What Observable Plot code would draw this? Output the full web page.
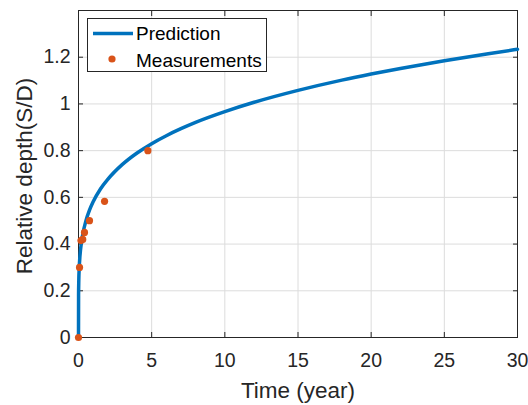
<!DOCTYPE html>
<html>
<head>
<meta charset="utf-8">
<script src="https://cdn.jsdelivr.net/npm/d3@7"></script>
<script src="https://cdn.jsdelivr.net/npm/@observablehq/plot@0.6"></script>
<style>
  html, body { margin: 0; padding: 0; background: #fff; }
  #wrap { position: relative; width: 528px; height: 405px; font-family: "Liberation Sans", Arial, sans-serif; }
  #legend { position: absolute; left: 87px; top: 18px; width: 180px; height: 54px; border: 1px solid #262626; background: #fff; box-sizing: border-box; }
  #legend svg { position: absolute; left: 0; top: 0; }
  #legend .lab { position: absolute; left: 48px; font-size: 19px; color: #000; line-height: 1; white-space: nowrap; }
</style>
</head>
<body>
<div id="wrap">
  <div id="chart"></div>
  <div id="legend">
    <svg width="180" height="54">
      <line x1="5" x2="45" y1="14.5" y2="14.5" stroke="#0072BD" stroke-width="3.5"></line>
      <circle cx="24" cy="40" r="3.6" fill="#D95319"></circle>
    </svg>
    <div class="lab" style="top:5px">Prediction</div>
    <div class="lab" style="top:32px">Measurements</div>
  </div>
</div>
<script>
// Tick values
const xTicks = [0, 5, 10, 15, 20, 25, 30];
const yTicks = [0, 0.2, 0.4, 0.6, 0.8, 1, 1.2];

// Prediction curve
const predTime  = [0, 0.005, 0.02, 0.05, 0.1, 0.2, 0.3, 0.5, 0.75, 1, 1.5, 2, 3, 4, 5, 6, 7, 8, 10, 12, 15, 18, 20, 22, 25, 28, 30];
const predDepth = [0, 0.180, 0.244, 0.299, 0.349, 0.407, 0.445, 0.498, 0.545, 0.581, 0.636, 0.677, 0.741, 0.790, 0.830, 0.864, 0.894, 0.921, 0.967, 1.007, 1.058, 1.102, 1.128, 1.152, 1.185, 1.215, 1.234];

// Measurements
const measTime  = [0, 0.07, 0.17, 0.29, 0.41, 0.75, 1.78, 4.74];
const measDepth = [0, 0.30, 0.415, 0.42, 0.45, 0.50, 0.583, 0.80];

const xLabel = "Time (year)";
const yLabel = "Relative depth(S/D)";

const pred = predTime.map((t, i) => ({t, d: predDepth[i]}));
const meas = measTime.map((t, i) => ({t, d: measDepth[i]}));

const fmt = d => String(+d.toFixed(1));
const ink = "#262626";
const fs = 19.5;
const lfs = 22.5;

const chart = Plot.plot({
  width: 528,
  height: 405,
  marginLeft: 78,
  marginRight: 11,
  marginTop: 10,
  marginBottom: 68,
  style: {fontFamily: '"Liberation Sans", Arial, sans-serif', fontSize: fs + "px", color: ink, background: "#fff"},
  x: {domain: [0, 30], ticks: xTicks},
  y: {domain: [0, 1.4], ticks: yTicks},
  marks: [
    Plot.gridX(xTicks, {stroke: "#dcdcdc", strokeOpacity: 1}),
    Plot.gridY(yTicks, {stroke: "#dcdcdc", strokeOpacity: 1}),
    Plot.frame({stroke: ink, strokeWidth: 1}),
    Plot.axisX(xTicks, {anchor: "bottom", tickSize: -5, tickPadding: 21, tickFormat: fmt, label: null, fontSize: fs, stroke: ink, fill: ink}),
    Plot.axisX(xTicks, {anchor: "top", tickSize: -5, tickFormat: () => "", label: null, stroke: ink}),
    Plot.axisY(yTicks, {anchor: "left", tickSize: -5, tickPadding: 13, tickFormat: fmt, label: null, fontSize: fs, stroke: ink, fill: ink}),
    Plot.axisY(yTicks, {anchor: "right", tickSize: -5, tickFormat: () => "", label: null, stroke: ink}),
    Plot.text([xLabel], {frameAnchor: "bottom", textAnchor: "middle", lineAnchor: "bottom", dy: 60, fontSize: lfs, fill: ink}),
    Plot.text([yLabel], {frameAnchor: "left", textAnchor: "middle", lineAnchor: "bottom", rotate: -90, dx: -47, dy: 2, fontSize: lfs, fill: ink}),
    Plot.line(pred, {x: "t", y: "d", stroke: "#0072BD", strokeWidth: 3.5, curve: "monotone-x"}),
    Plot.dot(meas, {x: "t", y: "d", r: 3.6, fill: "#D95319", stroke: "none"})
  ]
});
document.getElementById("chart").appendChild(chart);
</script>
</body>
</html>
